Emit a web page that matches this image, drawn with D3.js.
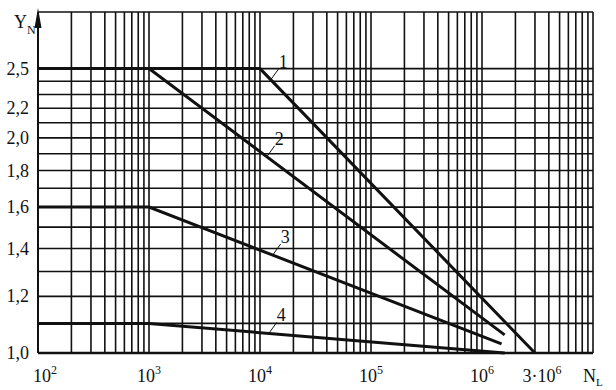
<!DOCTYPE html>
<html>
<head>
<meta charset="utf-8">
<script src="https://cdn.jsdelivr.net/npm/d3@7"></script>
<style>
body { margin: 0; background: #fff; }
svg text { font-family: "Liberation Serif", Tinos, "Times New Roman", Times, serif; fill: #111; }
</style>
</head>
<body>
<div id="chart"></div>
<script>
// tick labels
var xTicks = [1e2, 1e3, 1e4, 1e5, 1e6, 3e6];
var xTickBase = ["10", "10", "10", "10", "10", "3\u00b710"];
var xTickExp = ["2", "3", "4", "5", "6", "6"];
var yTicks = [1.0, 1.2, 1.4, 1.6, 1.8, 2.0, 2.2, 2.5];
var yTickLabels = ["1,0", "1,2", "1,4", "1,6", "1,8", "2,0", "2,2", "2,5"];
var yGrid = [1.0, 1.1, 1.2, 1.3, 1.4, 1.5, 1.6, 1.7, 1.8, 1.9, 2.0, 2.1, 2.2, 2.3, 2.4, 2.5];

// curves Y_N(N_L)
var curve1N = [1e2, 1e4, 3e6];
var curve1Y = [2.5, 2.5, 1.0];
var curve2N = [1e2, 1e3, 1.6e6];
var curve2Y = [2.5, 2.5, 1.06];
var curve3N = [1e2, 1e3, 1.5e6];
var curve3Y = [1.6, 1.6, 1.03];
var curve4N = [1e2, 1e3, 1.6e6];
var curve4Y = [1.1, 1.1, 1.0];
var curveNames = ["1", "2", "3", "4"];
var labelN = [1.25e4, 1.15e4, 1.3e4, 1.2e4];

var render = function() {
  let width = 616;
  let height = 390;

  let xScale = d3.scaleLog()
  .domain([1e2, 1e7])
  .range([38, 593]);

  let yScale = d3.scaleLog()
  .domain([1, 3])
  .range([353, 12]);

  let svg = d3.select("#chart")
  .append("svg")
  .attr("width", width)
  .attr("height", height)
  .attr("font-family", "'Liberation Serif', serif");

  // grid
  let vGrid = [];
  for (let e = 2; e < 7; e++) {
    for (let m = 1; m < 10; m++) {
      vGrid.push(m * Math.pow(10, e));
    }
  }
  vGrid.push(1e7);

  svg.append("g")
  .selectAll("line")
  .data(vGrid)
  .enter()
  .append("line")
  .attr("x1", (d) => xScale(d))
  .attr("x2", (d) => xScale(d))
  .attr("y1", yScale(3))
  .attr("y2", yScale(1))
  .attr("stroke", "#111")
  .attr("stroke-width", 1.6);

  svg.append("g")
  .selectAll("line")
  .data(yGrid.concat([3]))
  .enter()
  .append("line")
  .attr("x1", xScale(1e2))
  .attr("x2", xScale(1e7))
  .attr("y1", (d) => yScale(d))
  .attr("y2", (d) => yScale(d))
  .attr("stroke", "#111")
  .attr("stroke-width", 1.6);

  // y axis with arrow
  svg.append("line")
  .attr("x1", xScale(1e2))
  .attr("x2", xScale(1e2))
  .attr("y1", yScale(1))
  .attr("y2", 20)
  .attr("stroke", "#111")
  .attr("stroke-width", 2);

  svg.append("path")
  .attr("d", "M" + xScale(1e2) + ",8 L" + (xScale(1e2) - 3.5) + ",28 L" + (xScale(1e2) + 3.5) + ",28 Z")
  .attr("fill", "#111");

  svg.append("line")
  .attr("x1", xScale(1e2))
  .attr("x2", xScale(1e7))
  .attr("y1", yScale(1))
  .attr("y2", yScale(1))
  .attr("stroke", "#111")
  .attr("stroke-width", 2.4);

  // tick labels
  let xl = svg.append("g")
  .selectAll("text")
  .data(xTicks)
  .enter()
  .append("text")
  .attr("x", (d, i) => xScale(d) + (i == 0 ? 7 : 0) + (i == 5 ? 7 : 0))
  .attr("y", 382)
  .attr("text-anchor", "middle")
  .attr("font-size", 18);
  xl.append("tspan").text((d, i) => xTickBase[i]);
  xl.append("tspan")
  .attr("dy", -8)
  .attr("font-size", 12)
  .text((d, i) => xTickExp[i]);

  svg.append("g")
  .selectAll("text")
  .data(yTicks)
  .enter()
  .append("text")
  .attr("x", 29)
  .attr("y", (d) => yScale(d) + 6)
  .attr("text-anchor", "end")
  .attr("font-size", 18)
  .text((d, i) => yTickLabels[i]);

  // axis names
  let yName = svg.append("text")
  .attr("x", 14)
  .attr("y", 28)
  .attr("font-size", 18);
  yName.append("tspan").text("Y");
  yName.append("tspan").attr("dy", 6).attr("font-size", 12).text("N");

  let xName = svg.append("text")
  .attr("x", 583)
  .attr("y", 382)
  .attr("font-size", 18);
  xName.append("tspan").text("N");
  xName.append("tspan").attr("dy", 4).attr("font-size", 11).text("L");

  // curves
  let curves = [
    [curve1N, curve1Y],
    [curve2N, curve2Y],
    [curve3N, curve3Y],
    [curve4N, curve4Y]
  ];

  let line = d3.line()
  .x((d) => xScale(d[0]))
  .y((d) => yScale(d[1]));

  curves.forEach(function (c, i) {
    let pts = c[0].map((n, j) => [n, c[1][j]]);
    svg.append("path")
    .attr("d", line(pts))
    .attr("fill", "none")
    .attr("stroke", "#111")
    .attr("stroke-width", 3);

    // label with leader line
    let n = labelN[i];
    let k = 1;
    while (k < pts.length - 1 && pts[k][0] < n) { k++; }
    let t = (Math.log(n) - Math.log(pts[k - 1][0])) / (Math.log(pts[k][0]) - Math.log(pts[k - 1][0]));
    let yv = Math.exp(Math.log(pts[k - 1][1]) + t * (Math.log(pts[k][1]) - Math.log(pts[k - 1][1])));
    let px = xScale(n);
    let py = yScale(yv);

    svg.append("line")
    .attr("x1", px)
    .attr("y1", py)
    .attr("x2", px + 8)
    .attr("y2", py - 11)
    .attr("stroke", "#111")
    .attr("stroke-width", 1);

    svg.append("text")
    .attr("x", px + 8)
    .attr("y", py - 12)
    .attr("font-size", 18)
    .text(curveNames[i]);
  });
};

render();
</script>
</body>
</html>
